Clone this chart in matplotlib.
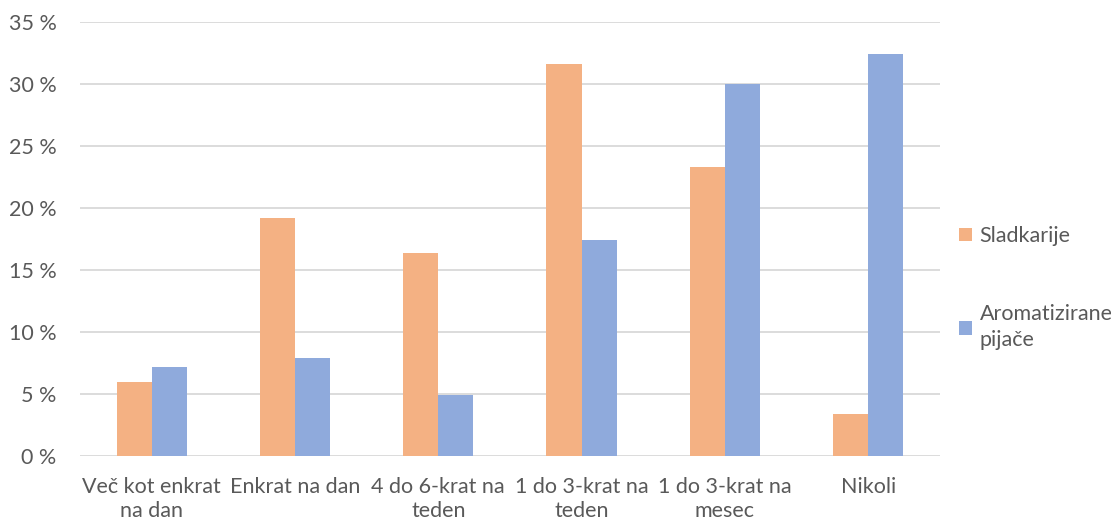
import numpy as np
import matplotlib.pyplot as plt

categories = ['Več kot enkrat\nna dan', 'Enkrat na dan', '4 do 6-krat na\nteden',
              '1 do 3-krat na\nteden', '1 do 3-krat na\nmesec', 'Nikoli']
sladkarije = [6.0, 19.2, 16.4, 31.6, 23.3, 3.4]
aromatizirane = [7.2, 7.9, 4.9, 17.4, 30.0, 32.4]
series_names = ['Sladkarije', 'Aromatizirane\npijače']

plt.rcParams['font.family'] = ['Lato', 'DejaVu Sans']
text_color = '#595959'

fig = plt.figure(figsize=(11.11, 5.24), dpi=100)
ax = fig.add_axes([0.072, 0.130, 0.774, 0.828])

x = np.arange(len(categories))
w = 0.245
ax.bar(x - w / 2, sladkarije, w, color='#F4B183', label=series_names[0], zorder=3)
ax.bar(x + w / 2, aromatizirane, w, color='#8FAADC', label=series_names[1], zorder=3)

ax.set_xlim(-0.5, len(categories) - 0.5)
ax.set_ylim(0, 35)
ax.set_yticks(range(0, 36, 5))
ax.set_yticklabels([f'{v} %' for v in range(0, 36, 5)])
ax.set_xticks(x)
ax.set_xticklabels(categories)
ax.grid(axis='y', color='#D9D9D9', linewidth=1.3, zorder=0)
for s in ax.spines.values():
    s.set_visible(False)
ax.tick_params(length=0, labelsize=15.5, colors=text_color)
ax.tick_params(axis='y', pad=17)
ax.tick_params(axis='x', pad=15)
for lbl in ax.get_xticklabels():
    lbl.set_linespacing(1.25)

leg = fig.legend(loc='center left', bbox_to_anchor=(0.846, 0.45), frameon=False,
                 fontsize=15.5, handlelength=0.6, handleheight=0.6, handletextpad=0.35,
                 labelspacing=2.7, labelcolor=text_color)
for t in leg.get_texts():
    t.set_linespacing(1.4)

fig.savefig('out.png', dpi=100)
